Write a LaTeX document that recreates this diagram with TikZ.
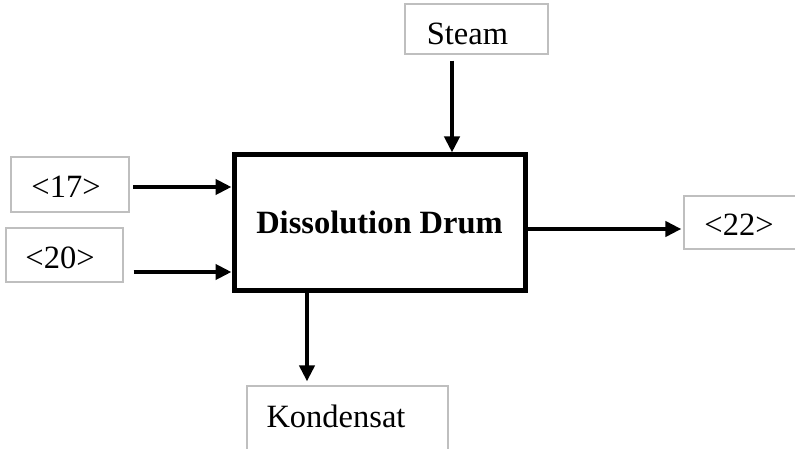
\documentclass[tikz,border=0pt]{standalone}
\usepackage{fontspec}
\setmainfont{Liberation Serif}
\usetikzlibrary{arrows.meta,calc}

\begin{document}
\begin{tikzpicture}[x=1pt,y=-1pt,
  streambox/.style={draw=black!25,line width=1.2pt,inner sep=0pt,fill=white},
  drum/.style={draw=black,line width=5pt,inner sep=0pt,
    minimum width=291pt,minimum height=135pt,
    font=\fontsize{32.5}{37}\selectfont\bfseries},
  tag/.style={anchor=base,inner sep=0pt,font=\fontsize{32.5}{37}\selectfont},
  flow/.style={line width=4pt,-{Triangle[length=16pt,width=15pt]}}]
\useasboundingbox (0,0) rectangle (795,449);
\clip (0,0) rectangle (795,449);

% process unit
\node[drum] (main) at (379.5,222.5) {Dissolution Drum};

% stream boxes
\node[streambox,minimum width=143pt,minimum height=50pt] (steam) at (476.5,29) {};
\node[streambox,minimum width=118pt,minimum height=55pt] (b17) at (70,184.5) {};
\node[streambox,minimum width=117pt,minimum height=54pt] (b20) at (64.5,255) {};
\node[streambox,minimum width=130pt,minimum height=53pt] (b22) at (749,222.5) {};
\node[streambox,minimum width=201pt,minimum height=80pt] (kond) at (347.5,426) {};

% stream labels
\node[tag] (steam-t) at (467.5,45) {Steam};
\node[tag] (t17) at (66,198) {<17>};
\node[tag] (t20) at (60,268) {<20>};
\node[tag] (t22) at (739,236) {<22>};
\node[tag] (kond-t) at (336,427) {Kondensat};

% connector start points
\coordinate (steam-out) at ($(steam.south)+(-24.5,6)$);
\coordinate (out17) at ($(b17.east)+(3.5,2.5)$);
\coordinate (out20) at ($(b20.east)+(10,17)$);
\coordinate (drum-out) at ($(main.east)+(0,6.5)$);
\coordinate (drum-cond) at ($(main.south)+(-72.5,0)$);

% connectors
\draw[flow] (steam-out) -- (steam-out |- main.north);
\draw[flow] (out17) -- (out17 -| main.west);
\draw[flow] (out20) -- (out20 -| main.west);
\draw[flow,shorten >=2pt] (drum-out) -- (drum-out -| b22.west);
\draw[flow,shorten >=4pt] (drum-cond) -- (drum-cond |- kond.north);
\end{tikzpicture}
\end{document}
